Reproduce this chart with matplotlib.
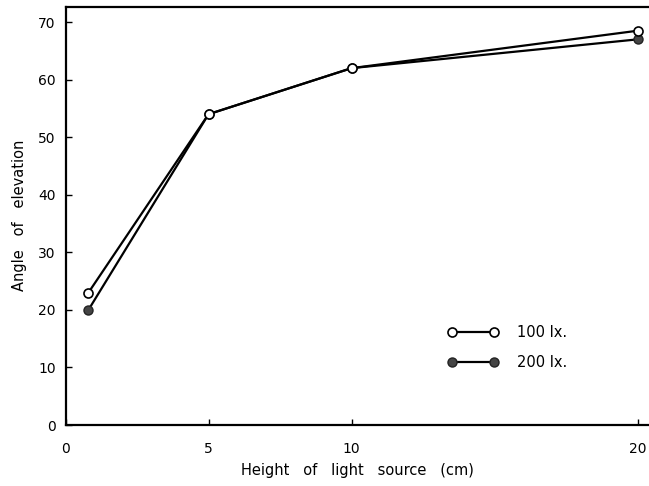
import matplotlib
matplotlib.use("Agg")
import matplotlib.pyplot as plt
from matplotlib.lines import Line2D

height_cm = [0.8, 5, 10, 20]
angle_100lx = [23, 54, 62, 68.5]
angle_200lx = [20, 54, 62, 67]
xticks = [0, 5, 10, 20]
yticks = [0, 10, 20, 30, 40, 50, 60, 70]

plt.rcParams['font.family'] = ['DejaVu Sans']

fig = plt.figure(figsize=(6.49, 4.86), dpi=100)
ax = fig.add_axes([0.101, 0.1255, 0.899, 0.861])

ax.plot(height_cm, angle_100lx, color='black', lw=1.6, marker='o', ms=6.5,
        mfc='white', mec='black', mew=1.2, zorder=3)
ax.plot(height_cm, angle_200lx, color='black', lw=1.6, marker='o', ms=6.5,
        mfc='#444444', mec='#222222', mew=1.0, zorder=2)

ax.set_xlim(0, 20.4)
ax.set_ylim(0, 72.7)
ax.set_xticks(xticks)
ax.set_yticks(yticks)
ax.set_xticklabels([str(v) for v in xticks], fontsize=10)
ax.set_yticklabels([str(v) for v in yticks], fontsize=10)
ax.tick_params(axis='both', direction='in', length=4, width=1)
ax.tick_params(axis='x', pad=12)
ax.tick_params(axis='y', pad=7)

for s in ['left', 'bottom', 'top']:
    ax.spines[s].set_linewidth(1.6)
ax.spines['right'].set_visible(False)

ax.set_xlabel('Height   of   light   source   (cm)', fontsize=10.5, labelpad=5)
ax.set_ylabel('Angle   of   elevation', fontsize=10.5, labelpad=8)

h1 = Line2D([], [], color='black', lw=1.6, marker='o', ms=6.5, mfc='white', mec='black', mew=1.2)
h2 = Line2D([], [], color='black', lw=1.6, marker='o', ms=6.5, mfc='#444444', mec='#222222', mew=1.0)
ax.legend([h1, h2], ['100 lx.', '200 lx.'], loc='center left',
          bbox_to_anchor=(0.632, 0.185), frameon=False, numpoints=2,
          handlelength=3.5, fontsize=10.5, labelspacing=1.0, handletextpad=1.3)

fig.savefig('out.png', dpi=100)
